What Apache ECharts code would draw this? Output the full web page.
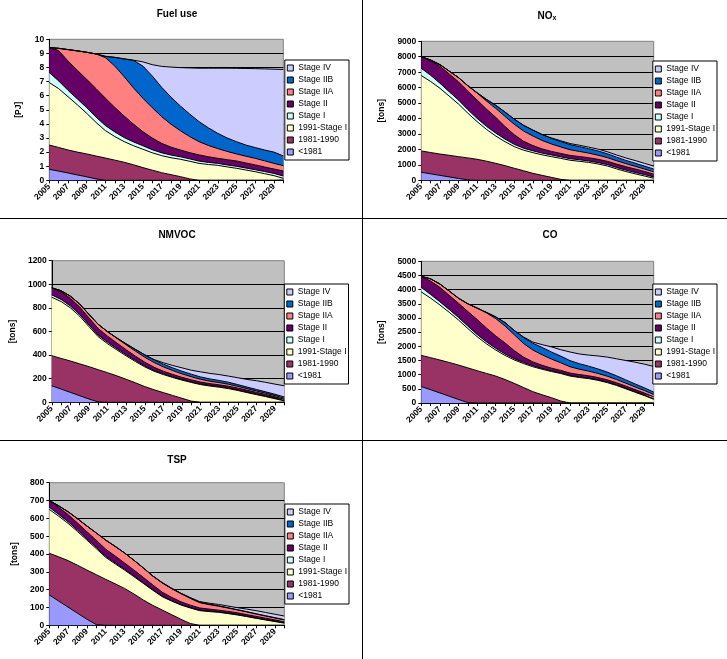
<!DOCTYPE html>
<html>
<head>
<meta charset="utf-8">
<script src="https://cdn.jsdelivr.net/npm/echarts@6/dist/echarts.min.js"></script>
<style>
html,body{margin:0;padding:0;background:#fff;}
#wrap{position:relative;width:727px;height:659px;overflow:hidden;background:#fff;}
.panel{position:absolute;}
.sep{position:absolute;background:#000;}
</style>
</head>
<body>
<div id="wrap">
  <div class="panel" id="p1" style="left:0;top:0;width:362px;height:218px"></div>
  <div class="panel" id="p2" style="left:362px;top:0;width:365px;height:218px"></div>
  <div class="panel" id="p3" style="left:0;top:218px;width:362px;height:222px"></div>
  <div class="panel" id="p4" style="left:362px;top:218px;width:365px;height:222px"></div>
  <div class="panel" id="p5" style="left:0;top:440px;width:362px;height:219px"></div>
  <div class="sep" style="left:362px;top:0;width:1px;height:659px"></div>
  <div class="sep" style="left:0;top:218px;width:727px;height:1px"></div>
  <div class="sep" style="left:0;top:440px;width:727px;height:1px"></div>
</div>
<script>
// ---------- categories ----------
const years = ['2005','2006','2007','2008','2009','2010','2011','2012','2013','2014','2015','2016','2017',
               '2018','2019','2020','2021','2022','2023','2024','2025','2026','2027','2028','2029','2030'];
const seriesNames = ['<1981','1981-1990','1991-Stage I','Stage I','Stage II','Stage IIA','Stage IIB','Stage IV'];
const seriesColors = ['#9999FF','#993366','#FFFFCC','#CCFFFF','#660066','#FF8080','#0066CC','#CCCCFF'];

// ---------- Fuel use [PJ] ----------
const fuel_lt1981      = [0.78,0.65,0.52,0.38,0.25,0.1,0,0,0,0,0,0,0,0,0,0,0,0,0,0,0,0,0,0,0,0];
const fuel_1981_1990   = [1.72,1.68,1.63,1.62,1.62,1.62,1.58,1.43,1.28,1.1,0.9,0.72,0.54,0.4,0.26,0.1,0,0,0,0,0,0,0,0,0,0];
const fuel_1991_stageI = [4.43,4.17,3.78,3.35,2.88,2.38,1.94,1.67,1.46,1.35,1.3,1.23,1.21,1.2,1.23,1.25,1.2,1.12,1.06,0.95,0.85,0.73,0.61,0.47,0.33,0.14];
const fuel_stageI      = [0.71,0.55,0.45,0.42,0.4,0.38,0.36,0.33,0.29,0.27,0.25,0.22,0.2,0.19,0.18,0.17,0.16,0.15,0.14,0.14,0.14,0.14,0.14,0.15,0.16,0.16];
const fuel_stageII     = [1.77,2.15,2.08,2.03,2.01,2.02,1.94,1.74,1.53,1.26,1.0,0.83,0.67,0.56,0.48,0.44,0.44,0.4,0.36,0.37,0.38,0.36,0.34,0.32,0.31,0.36];
const fuel_stageIIA    = [0,0.16,0.81,1.38,1.92,2.46,2.88,2.93,2.79,2.57,2.37,2.15,1.9,1.63,1.37,1.14,0.94,0.8,0.69,0.59,0.5,0.48,0.47,0.44,0.4,0.38];
const fuel_stageIIB    = [0,0,0,0,0,0,0.08,0.62,1.25,1.95,2.28,2.25,2.08,1.92,1.75,1.6,1.42,1.25,1.08,0.95,0.87,0.79,0.76,0.77,0.8,0.69];
const fuel_stageIV     = [0,0,0,0,0,0,0.02,0,0.02,0.02,0.3,0.8,1.48,2.13,2.72,3.27,3.79,4.23,4.62,4.95,5.2,5.43,5.6,5.75,5.88,6.13];

// ---------- NOx [tons] ----------
const nox_lt1981      = [520,420,320,220,120,30,0,0,0,0,0,0,0,0,0,0,0,0,0,0,0,0,0,0,0,0];
const nox_1981_1990   = [1380,1380,1380,1400,1410,1420,1360,1240,1100,950,780,620,450,320,190,60,0,0,0,0,0,0,0,0,0,0];
const nox_1991_stageI = [4880,4600,4260,3830,3410,2900,2440,2060,1770,1550,1400,1330,1340,1330,1340,1360,1300,1230,1160,1060,930,740,570,420,280,130];
const nox_stageI      = [470,400,330,290,260,230,210,200,190,170,150,130,120,110,110,100,100,100,90,90,90,90,90,90,90,90];
const nox_stageII     = [750,950,1100,1150,1180,1190,1190,1120,1020,820,620,450,340,270,230,220,210,210,210,210,210,220,220,220,200,180];
const nox_stageIIA    = [0,40,100,180,270,360,450,520,580,650,680,660,620,550,480,420,370,330,300,270,240,220,200,180,160,150];
const nox_stageIIB    = [0,0,0,0,0,0,20,100,200,280,330,370,380,380,370,350,330,310,290,270,250,230,210,200,190,180];
const nox_stageIV     = [0,0,0,0,0,0,0,0,0,0,0,0,0,0,20,50,70,90,100,120,130,140,160,170,180,190];

// ---------- NMVOC [tons] ----------
const nmvoc_lt1981      = [140,112,84,56,28,3,0,0,0,0,0,0,0,0,0,0,0,0,0,0,0,0,0,0,0,0];
const nmvoc_1981_1990   = [255,260,266,270,274,273,251,224,195,165,133,106,82,58,34,10,0,0,0,0,0,0,0,0,0,0];
const nmvoc_1991_stageI = [495,482,450,404,339,279,245,220,198,180,167,157,153,152,154,158,150,138,128,116,100,82,65,48,30,12];
const nmvoc_stageI      = [20,18,16,15,14,13,12,11,10,9,8,7,6,6,5,5,5,5,5,5,5,5,5,5,5,4];
const nmvoc_stageII     = [60,65,65,63,60,57,52,47,42,37,32,27,22,20,18,17,16,15,15,15,15,15,14,13,12,10];
const nmvoc_stageIIA    = [0,8,18,25,30,35,38,40,42,42,42,40,37,33,30,27,24,21,19,17,15,13,12,11,10,9];
const nmvoc_stageIIB    = [0,0,0,0,0,0,0,3,8,15,20,22,23,23,22,21,20,19,18,17,15,14,13,12,11,10];
const nmvoc_stageIV     = [0,0,0,0,0,0,0,0,0,0,0,3,12,20,29,34,43,47,50,52,58,65,74,80,86,95];

// ---------- CO [tons] ----------
const co_lt1981      = [580,470,355,240,125,15,0,0,0,0,0,0,0,0,0,0,0,0,0,0,0,0,0,0,0,0];
const co_1981_1990   = [1100,1130,1162,1190,1215,1225,1140,1045,952,830,694,545,400,290,188,70,0,0,0,0,0,0,0,0,0,0];
const co_1991_stageI = [2240,2100,1943,1770,1590,1390,1200,1045,918,850,826,845,880,900,922,970,950,900,860,800,720,620,500,380,260,130];
const co_stageI      = [160,130,110,100,90,85,80,70,60,52,45,40,35,30,28,26,25,24,23,22,21,20,20,20,20,20];
const co_stageII     = [390,470,510,500,500,515,530,490,440,388,285,190,135,110,92,84,80,78,77,76,75,75,75,73,72,70];
const co_stageIIA    = [0,80,120,150,180,270,400,530,610,600,560,480,420,370,320,270,225,190,165,145,130,115,105,95,88,80];
const co_stageIIB    = [0,0,0,0,0,0,0,20,60,120,150,210,240,260,250,235,215,195,175,160,145,130,115,105,95,85];
const co_stageIV     = [0,0,0,0,0,0,0,0,0,0,0,20,40,100,180,225,305,343,390,457,529,600,685,767,835,905];

// ---------- TSP [tons] ----------
const tsp_lt1981      = [170,136,102,68,34,4,0,0,0,0,0,0,0,0,0,0,0,0,0,0,0,0,0,0,0,0];
const tsp_1981_1990   = [234,248,261,269,276,280,258,233,207,176,142,112,86,60,34,10,0,0,0,0,0,0,0,0,0,0];
const tsp_1991_stageI = [246,228,209,189,168,146,123,112,103,97,93,85,75,76,80,87,82,77,73,66,58,49,39,30,21,12];
const tsp_stageI      = [12,10,9,8,7,7,6,6,5,5,4,4,3,3,3,3,3,3,2,2,2,2,2,2,2,2];
const tsp_stageII     = [38,40,40,40,40,40,40,38,35,32,30,26,22,18,15,13,12,11,10,10,10,9,9,8,7,6];
const tsp_stageIIA    = [0,8,16,24,32,41,51,54,56,55,53,50,52,49,45,38,30,25,22,19,16,15,13,12,11,10];
const tsp_stageIIB    = [0,0,0,0,0,0,0,0,0,0,0,0,2,2,3,3,3,3,3,2,2,2,2,2,2,2];
const tsp_stageIV     = [0,0,0,0,0,0,0,0,0,0,0,0,0,0,0,1,3,5,7,9,11,14,17,18,19,20];

// ---------- axis settings ----------
const fuelAxis  = {max:10,   step:1,    unit:'[PJ]'};
const noxAxis   = {max:9000, step:1000, unit:'[tons]'};
const nmvocAxis = {max:1200, step:200,  unit:'[tons]'};
const coAxis    = {max:5000, step:500,  unit:'[tons]'};
const tspAxis   = {max:800,  step:100,  unit:'[tons]'};

const FONT = '"Liberation Sans", Arial, sans-serif';

function build(elId, title, titleRich, axis, data, layout) {
  const chart = echarts.init(document.getElementById(elId), null, {renderer:'canvas'});
  const series = seriesNames.map((n, i) => ({
    name: n, type: 'line', stack: 'total', data: data[i],
    symbol: 'none', showSymbol: false, silent: true,
    lineStyle: {color: '#000', width: 1},
    areaStyle: {color: seriesColors[i], opacity: 1},
    itemStyle: {color: seriesColors[i]},
    emphasis: {disabled: true},
    z: 2
  }));
  chart.setOption({
    animation: false,
    backgroundColor: 'transparent',
    graphic: [{
      type: 'text', x: layout.tx, y: layout.ty, silent: true,
      style: {
        text: title, fill: '#000', align: 'center', verticalAlign: 'middle',
        font: 'bold 10px ' + FONT,
        rich: titleRich || undefined
      }
    }],
    grid: {
      left: layout.left, right: layout.right, top: layout.top, bottom: layout.bottom,
      show: true, backgroundColor: '#C0C0C0', borderColor: '#808080', borderWidth: 1,
      containLabel: false
    },
    legend: {
      orient: 'vertical', right: layout.lr, top: layout.lt,
      data: seriesNames.slice().reverse(),
      icon: 'rect', itemWidth: 6, itemHeight: 6, itemGap: 2,
      padding: [3, 2, 3, 2],
      borderColor: '#000', borderWidth: 1, backgroundColor: '#fff',
      selectedMode: false,
      itemStyle: {borderColor: '#000', borderWidth: 1},
      textStyle: {fontFamily: FONT, fontSize: 8.5, color: '#000', lineHeight: 10}
    },
    xAxis: {
      type: 'category', data: years, boundaryGap: false,
      axisLine: {show: true, onZero: false, lineStyle: {color: '#000', width: 1}},
      axisTick: {show: true, interval: 0, length: 3, lineStyle: {color: '#000'}},
      axisLabel: {interval: 1, rotate: 45, fontFamily: FONT, fontWeight: 'bold', fontSize: 8.5, color: '#000', margin: 5},
      splitLine: {show: false}
    },
    yAxis: {
      type: 'value', min: 0, max: axis.max, interval: axis.step,
      name: axis.unit, nameLocation: 'middle', nameGap: layout.ng, nameRotate: 90,
      nameTextStyle: {fontFamily: FONT, fontWeight: 'bold', fontSize: 8.5, color: '#000'},
      axisLine: {show: true, lineStyle: {color: '#000', width: 1}},
      axisTick: {show: true, length: 3, lineStyle: {color: '#000'}},
      axisLabel: {fontFamily: FONT, fontWeight: 'bold', fontSize: 8.5, color: '#000', margin: 5,
                  formatter: function (v) { return String(v); }},
      splitLine: {show: true, showMaxLine: false, lineStyle: {color: '#000', width: 1}}
    },
    series: series
  });
}

build('p1', 'Fuel use', null, fuelAxis,
  [fuel_lt1981, fuel_1981_1990, fuel_1991_stageI, fuel_stageI, fuel_stageII, fuel_stageIIA, fuel_stageIIB, fuel_stageIV],
  {left: 49.3, right: 78.7, top: 39.3, bottom: 37.7, tx: 177, ty: 14, lr: 13, lt: 60, ng: 26});

build('p2', 'NO{s|x}', {s: {font: 'bold 7px ' + FONT, verticalAlign: 'bottom', padding: [4, 0, 0, 0]}}, noxAxis,
  [nox_lt1981, nox_1981_1990, nox_1991_stageI, nox_stageI, nox_stageII, nox_stageIIA, nox_stageIIB, nox_stageIV],
  {left: 59.3, right: 73.3, top: 41.3, bottom: 37.7, tx: 185, ty: 16, lr: 10, lt: 61, ng: 30});

build('p3', 'NMVOC', null, nmvocAxis,
  [nmvoc_lt1981, nmvoc_1981_1990, nmvoc_1991_stageI, nmvoc_stageI, nmvoc_stageII, nmvoc_stageIIA, nmvoc_stageIIB, nmvoc_stageIV],
  {left: 51.7, right: 77.7, top: 42.7, bottom: 37.7, tx: 177, ty: 17.7, lr: 13.5, lt: 66, ng: 31});

build('p4', 'CO', null, coAxis,
  [co_lt1981, co_1981_1990, co_1991_stageI, co_stageI, co_stageII, co_stageIIA, co_stageIIB, co_stageIV],
  {left: 59.3, right: 73.3, top: 43.3, bottom: 37, tx: 188, ty: 17.7, lr: 10, lt: 66, ng: 30});

build('p5', 'TSP', null, tspAxis,
  [tsp_lt1981, tsp_1981_1990, tsp_1991_stageI, tsp_stageI, tsp_stageII, tsp_stageIIA, tsp_stageIIB, tsp_stageIV],
  {left: 49.3, right: 77.7, top: 42.7, bottom: 33.7, tx: 177, ty: 20.7, lr: 13, lt: 64, ng: 29});
</script>
</body>
</html>
